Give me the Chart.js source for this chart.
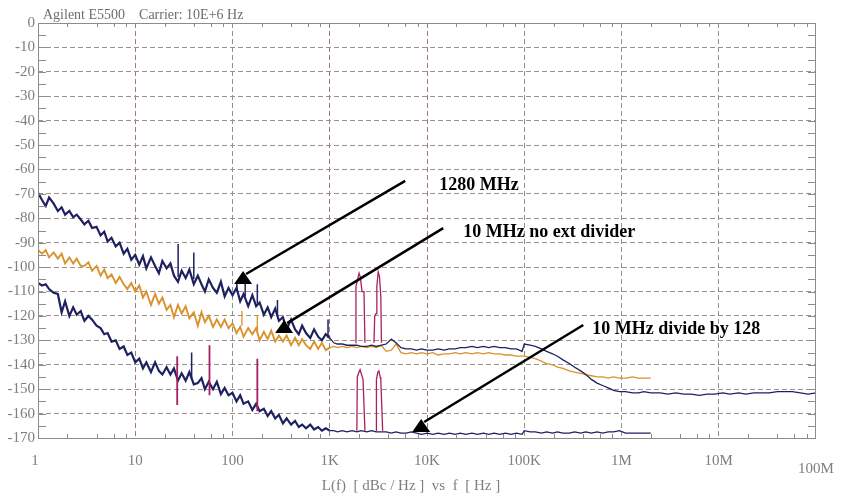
<!doctype html>
<html lang="en">
<head>
<meta charset="utf-8">
<title>Agilent E5500 phase noise</title>
<style>
  html,body{margin:0;padding:0;background:#fff;overflow:hidden;}
  #wrap{width:849px;height:498px;}
</style>
</head>
<body>
<div id="wrap"><canvas id="chart0"></canvas></div>
<script src="https://cdn.jsdelivr.net/npm/chart.js@4.4.0/dist/chart.umd.min.js"></script>
<script>
// offset frequencies, 1 Hz .. 1 kHz (dense sweep segment)
const freqLow = [
  1,1.1,1.2,1.3,1.45,1.6,1.75,1.9,2.1,2.3,2.5,2.75,3,3.3,3.6,4,4.4,4.8,5.2,5.7,6.3,6.9,7.6,8.3,9.1,
  10,11,12,13,14.5,16,17.5,19,21,23,25,27.5,30,33,36,40,44,48,52,57,63,69,76,83,91,
  100,110,120,130,145,160,175,190,210,230,250,275,300,330,360,400,440,480,520,570,630,690,760,830,910,
  1000
];
// 1 kHz .. 2 MHz
const freqMid = [
  1100,1200,1350,1500,1700,1900,2100,2400,2700,3000,3400,3800,4300,4800,5400,
  6100,6900,7800,8800,10000,11500,13000,15000,17000,19500,22000,25000,29000,33000,38000,
  43000,49000,56000,64000,73000,83000,95000,100000,115000,130000,150000,170000,195000,220000,250000,
  290000,330000,380000,430000,490000,560000,640000,730000,830000,950000,1100000,1300000,1500000,1700000,2000000
];
// 2 MHz .. 100 MHz (1280 MHz trace only)
const freqTop = [
  2500000,3000000,3600000,4400000,5200000,6300000,7600000,9100000,11000000,13000000,
  16000000,19000000,23000000,27500000,33000000,40000000,48000000,57000000,69000000,83000000,100000000
];

// L(f) in dBc/Hz
const n1280Low = [
  -69.5,-72.5,-75,-71.5,-74,-77,-75.5,-78.5,-77,-79.5,-78.5,-80.5,-82.5,-81,-84,-83.5,-87,-85.5,-89.5,-88,-91.5,-90,-94.5,-92.5,-97,
  -95,-99,-95.5,-100.5,-96,-99.5,-102.5,-97.5,-100.5,-98.5,-103.5,-106,-101.5,-104.5,-101,-107,-103.5,-107,-110,-105,-108.5,-110.5,-106,-112,-108.5,
  -111.5,-108.5,-114,-111,-116,-111.5,-116,-114.5,-119.5,-116.5,-120.5,-117,-122,-120.5,-125.5,-121.5,-125.5,-127.5,-124,-127,-129,-125.5,-128.5,-130,-127.5,
  -129
];
const n1280Mid = [
  -131,-131.5,-131.5,-132,-132,-132,-132.5,-132.5,-132,-132.5,-132,-131.5,-129.5,-131,-133,
  -133.5,-133.5,-134,-133.5,-134,-134,-133.5,-134,-133.5,-133.5,-133,-133,-132.5,-133,-132.5,
  -133,-132.5,-133,-133,-133.5,-133.5,-134.5,-131.5,-132,-132.5,-133.5,-134.5,-135.5,-136.5,-138,
  -139.5,-141,-142.5,-144,-146,-147.5,-148.5,-149.5,-150.5,-151,-151,-151.5,-151.5,-151,-151.5
];
const n1280Top = [
  -151.5,-152,-151.5,-152,-152,-152.5,-152,-152,-151.5,-152,
  -151.5,-152,-151.5,-151.5,-151.5,-151,-151,-151,-151.5,-152,-151.5
];

const nDirectLow = [
  -93,-94.5,-93,-96,-94,-96.5,-94.5,-98.5,-96,-98.5,-96.5,-99.5,-99.5,-98,-101.5,-99.5,-103.5,-101,-104.5,-103,-106.5,-104,-107,-109,-106.5,
  -110,-107.5,-112.5,-110,-115.5,-111,-115,-112.5,-117.5,-115.5,-120.5,-115.5,-119,-116,-121,-118.5,-124,-118.5,-122.5,-120,-124.5,-121.5,-124.5,-121.5,-125,
  -123,-127,-124.5,-128.5,-125,-127.5,-125,-130,-126.5,-129.5,-126,-130.5,-128,-130.5,-128,-132,-129,-132,-129.5,-132,-133.5,-130.5,-133.5,-131,-134,
  -133
];
const nDirectMid = [
  -132.5,-133,-132.5,-133,-132.5,-133,-132.5,-133,-132.5,-133,-132,-134.5,-134,-131.5,-135,
  -135.5,-135,-135.5,-135,-135.5,-135,-136,-135.5,-135.5,-135,-135.5,-135,-135.5,-135,-135.5,
  -135,-135.5,-135.5,-136,-136,-136.5,-136.5,-136.5,-137,-137.5,-138.5,-139.5,-140,-141,-141.5,
  -142.5,-143,-143.5,-144,-144.5,-145,-145,-145.5,-145,-145.5,-145.5,-145,-145.5,-145.5,-145.5
];

const nDivLow = [
  -106.5,-107.5,-107,-109,-110.5,-111,-118.5,-114,-120,-116.5,-119.5,-118,-122,-120,-121.5,-124,-125,-127.5,-127,-130.5,-130,-133.5,-132.5,-136,-135,
  -139,-137.5,-141.5,-139,-143,-139,-142.5,-144,-141,-144,-141.5,-146.5,-143.5,-146.5,-143,-148,-147.5,-145.5,-150,-147,-150,-147,-152,-149.5,-152.5,
  -151.5,-155,-152.5,-156,-155,-158.5,-156,-159,-158,-161,-159,-162,-160.5,-164,-162,-164.5,-163,-165.5,-164.5,-166,-164.5,-166.5,-165.5,-167,-166,
  -167
];
const nDivMid = [
  -167,-167.5,-167,-167.5,-167,-167.5,-167,-167.5,-167,-167.5,-167.5,-167.5,-168,-167.5,-168,
  -168,-167.5,-168,-168.5,-168,-168.5,-168,-168.5,-168,-168.5,-168,-168.5,-168,-168.5,-168,
  -168.5,-168,-168.5,-168,-168.5,-168,-168.5,-167,-167.5,-167.5,-168,-167.5,-168,-167.5,-168,
  -168,-167.5,-168,-167.5,-168,-167.5,-168,-167.5,-167.5,-167,-168,-168,-168,-168,-168
];

// discrete spurs: frequency, bottom and top of the line
const navySpurF  = [27.6, 40, 111, 135, 180, 290, 960, 38];
const navySpurLo = [-104, -105, -110, -112, -115, -120, -129, -146];
const navySpurHi = [-90.5, -94, -106, -106.5, -107, -113.5, -121.5, -135];
const orangeSpurF  = [125, 180];
const orangeSpurLo = [-124, -126];
const orangeSpurHi = [-118, -120];
const magSpurF  = [27, 58, 180];
const magSpurLo = [-156.5, -152.5, -159];
const magSpurHi = [-136.5, -132, -137.5];

// spur humps near 2 kHz and 3.2 kHz (null = pen up)
const humpF = [
  1850,1860,1960,2000,2060,2150,2250,2300,2300,
  2850,2900,3000,3050,3150,3250,3350,3400,3400,
  1900,1920,2000,2050,2120,2200,2300,2300,
  3000,3020,3120,3200,3300,3350,3500
];
const humpDb = [
  -131,-108,-104,-102.5,-104,-110,-110,-131,null,
  -131,-120,-119,-108,-102,-104,-112,-131,null,
  -167,-145,-143,-142,-144,-146,-167,null,
  -167,-146,-143,-142.5,-145,-146,-167
];

const xTicks = [1,10,100,1e3,1e4,1e5,1e6,1e7,1e8];
const xTickLabels = ['1','10','100','1K','10K','100K','1M','10M','100M'];

// callouts: arrow tail, arrow tip, label anchor (Hz, dBc/Hz)
const noteText = ['1280 MHz', '10 MHz no ext divider', '10 MHz divide by 128'];
const arrowFrom = [[5970,-64.7],[14690,-84],[404600,-123.7]];
const arrowTo = [[128.5,-101.6],[339.6,-121.7],[8710,-162.2]];
const noteAt = [[13340,-68.4],[23560,-87.7],[500900,-127.4]];

const NAVY = '#1e2160';
const ORANGE = '#d9922c';
const MAGENTA = '#a8205f';
const AXIS = '#8c8c8c';
const TEXT = '#7b807d';

function pts(f, v){ return f.map((x,i) => ({x:x, y:v[i]})); }
function spurPts(f, lo, hi){
  const out = [];
  f.forEach((x,i) => { out.push({x:x,y:lo[i]},{x:x,y:hi[i]},{x:x,y:null}); });
  return out;
}
// the low-offset sweep is drawn heavier than the smooth part
function sweepWidth(wide, thin){
  return ctx => ctx.p0.parsed.x < 1000 ? wide : thin;
}

const framePlugin = {
  id: 'frame',
  afterDraw(chart){
    const ctx = chart.ctx, a = chart.chartArea;
    const xs = chart.scales.x, ys = chart.scales.y;
    ctx.save();
    // plot frame
    ctx.strokeStyle = AXIS; ctx.lineWidth = 1;
    ctx.strokeRect(a.left+0.5, a.top+0.5, a.right-a.left-1, a.bottom-a.top);
    // minor ticks
    ctx.beginPath();
    for (let d = -165; d < 0; d += 5){
      const y = Math.round(ys.getPixelForValue(d)) + 0.5;
      ctx.moveTo(a.left, y); ctx.lineTo(a.left+8, y);
      ctx.moveTo(a.right-8, y); ctx.lineTo(a.right, y);
    }
    for (let dec = 1; dec < 1e8; dec *= 10){
      [2,4,6,8].forEach(m => {
        const x = Math.round(xs.getPixelForValue(dec*m)) + 0.5;
        ctx.moveTo(x, a.bottom); ctx.lineTo(x, a.bottom-4);
        ctx.moveTo(x, a.top); ctx.lineTo(x, a.top+4);
      });
    }
    ctx.stroke();
    // frequency labels
    ctx.fillStyle = TEXT;
    ctx.font = '15px "Liberation Serif"';
    ctx.textAlign = 'center'; ctx.textBaseline = 'middle';
    xTicks.forEach((v,i) => {
      const x = xs.getPixelForValue(v) - (i === 0 ? 3 : 0);
      ctx.fillText(xTickLabels[i], x, i === xTicks.length-1 ? a.bottom+31 : a.bottom+23);
    });
    ctx.textBaseline = 'alphabetic';
    ctx.fillText('L(f)  [ dBc / Hz ]  vs  f  [ Hz ]', 411, 490);
    ctx.textAlign = 'left';
    ctx.font = '14px "Liberation Serif"';
    ctx.fillStyle = '#6e6e6e';
    ctx.fillText('Agilent E5500    Carrier: 10E+6 Hz', 43, 18.5);
    // callout arrows
    ctx.strokeStyle = '#000'; ctx.fillStyle = '#000'; ctx.lineWidth = 2.5;
    noteText.forEach((t,i) => {
      const x0 = xs.getPixelForValue(arrowFrom[i][0]), y0 = ys.getPixelForValue(arrowFrom[i][1]);
      const x1 = xs.getPixelForValue(arrowTo[i][0]), y1 = ys.getPixelForValue(arrowTo[i][1]);
      ctx.beginPath(); ctx.moveTo(x0,y0); ctx.lineTo(x1+3,y1+3); ctx.stroke();
      ctx.beginPath();
      ctx.moveTo(x1, y1); ctx.lineTo(x1-9, y1+13); ctx.lineTo(x1+9, y1+13); ctx.closePath();
      ctx.fill();
      ctx.font = 'bold 18px "Liberation Serif"';
      ctx.fillText(t, xs.getPixelForValue(noteAt[i][0]), ys.getPixelForValue(noteAt[i][1]));
    });
    ctx.restore();
  }
};

const gridColors = {10:'#a07585', 100:'#7f9a88', 1000:'#a07585', 10000:'#a07585', 100000:'#7f9a88', 1000000:'#7f9a88', 10000000:'#7f9a88'};

new Chart(document.getElementById('chart0'), {
  type: 'line',
  data: {
    datasets: [
      {data: humpF.map((x,i) => ({x:x, y:humpDb[i]})), borderColor: MAGENTA, borderWidth: 1.3},
      {data: spurPts(magSpurF, magSpurLo, magSpurHi), borderColor: MAGENTA, borderWidth: 1.8},
      {data: spurPts(navySpurF, navySpurLo, navySpurHi), borderColor: NAVY, borderWidth: 1.5},
      {data: spurPts(orangeSpurF, orangeSpurLo, orangeSpurHi), borderColor: ORANGE, borderWidth: 1.3},
      {label: '1280 MHz', data: pts(freqLow.concat(freqMid, freqTop), n1280Low.concat(n1280Mid, n1280Top)),
       borderColor: NAVY, borderWidth: 1.3, segment: {borderWidth: sweepWidth(2.2, 1.3)}},
      {label: '10 MHz no ext divider', data: pts(freqLow.concat(freqMid), nDirectLow.concat(nDirectMid)),
       borderColor: ORANGE, borderWidth: 1.3, segment: {borderWidth: sweepWidth(1.9, 1.3)}},
      {label: '10 MHz divide by 128', data: pts(freqLow.concat(freqMid), nDivLow.concat(nDivMid)),
       borderColor: NAVY, borderWidth: 1.3, segment: {borderWidth: sweepWidth(2.2, 1.3)}}
    ]
  },
  options: {
    responsive: true,
    maintainAspectRatio: false,
    animation: false,
    spanGaps: false,
    elements: {point: {radius: 0}, line: {tension: 0}},
    layout: {padding: {top: 23, right: 33, left: 0, bottom: 0}},
    plugins: {legend: {display: false}, tooltip: {enabled: false}},
    scales: {
      x: {
        type: 'logarithmic', min: 1, max: 1e8,
        afterBuildTicks: s => { s.ticks = xTicks.map(v => ({value: v})); },
        afterFit: s => { s.height = 60; },
        ticks: {display: false},
        grid: {color: c => gridColors[c.tick && c.tick.value] || 'rgba(0,0,0,0)', drawTicks: false},
        border: {display: false, dash: [5,3]}
      },
      y: {
        min: -170, max: 0,
        afterFit: s => { s.width = 38; },
        ticks: {stepSize: 10, color: TEXT, padding: 3, font: {family: 'Liberation Serif', size: 15}},
        grid: {color: '#a38f8f', drawTicks: false},
        border: {display: false, dash: [5,3]}
      }
    }
  },
  plugins: [framePlugin]
});
</script>
</body>
</html>
